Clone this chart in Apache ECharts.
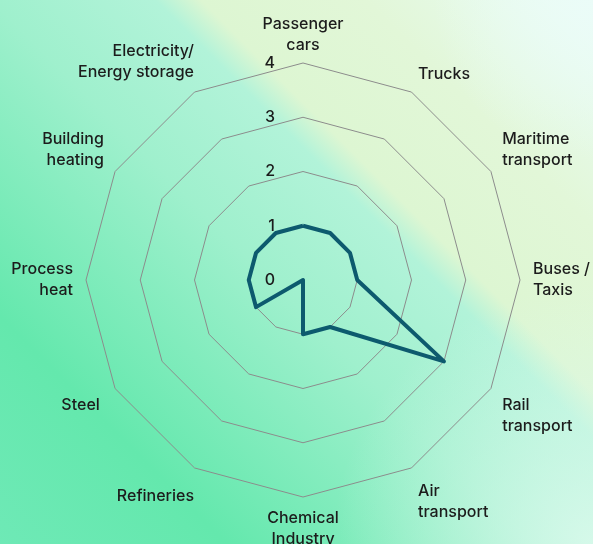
<!DOCTYPE html>
<html>
<head>
<meta charset="utf-8">
<script src="https://cdn.jsdelivr.net/npm/echarts@6/dist/echarts.min.js"></script>
<style>
  html, body { margin: 0; padding: 0; }
  #chart {
    width: 593px; height: 544px;
    background:
      radial-gradient(circle at 100% 100%, rgba(222,250,238,0.85) 0px, rgba(222,250,238,0) 260px),
      radial-gradient(circle at 100% 0%, rgba(235,252,248,0.9) 0px, rgba(235,252,248,0) 160px),
      linear-gradient(45deg, #6ee9b6 0%, #64e8ad 20%, #9ff0cd 47%, #b2f3d9 61.5%, #ddf6d2 65.5%, #e2f7d8 80%, #eafcf7 100%);
  }
</style>
</head>
<body>
<div id="chart"></div>
<script>
// Clockwise from top
var categories = [
  'Passenger\ncars', 'Trucks', 'Maritime\ntransport', 'Buses /\nTaxis',
  'Rail\ntransport', 'Air\ntransport', 'Chemical\nIndustry', 'Refineries',
  'Steel', 'Process\nheat', 'Building\nheating', 'Electricity/\nEnergy storage'
];
var values = [1, 1, 1, 1, 3, 1, 1, 0, 1, 1, 1, 1];
var axisMax = 4;

var FONT = 'Inter';
var TEXT = '#1c1c1c';

// name label placement tweaks (top, right, bottom, left padding)
var namePadding = {
  0: [0, 0, -6, 0],
  1: [0, 0, -4, 0],
  2: [0, 0, -6, 0],
  5: [2, 0, 0, 0],
  6: [-2, 0, 0, 0],
  7: [7, -6, 0, 0],
  8: [0, 4, 0, 0],
  10: [0, 0, -6, 0],
  11: [0, -6, -2, 0]
};

// vertical alignment of names: upper half -> bottom, lower half -> top, sides -> middle
function nameStyle(idx) {
  var deg = idx * 30; // clockwise from top
  var st = {};
  if (deg === 90 || deg === 270) st.verticalAlign = 'middle';
  else if (deg < 90 || deg > 270) st.verticalAlign = 'bottom';
  else st.verticalAlign = 'top';
  if (namePadding[idx]) st.padding = namePadding[idx];
  return st;
}

// ECharts lays indicators counter-clockwise; reorder so they read clockwise
var order = [0];
for (var i = categories.length - 1; i >= 1; i--) order.push(i);

var indicators = order.map(function (idx, k) {
  var ind = { name: categories[idx], min: 0, max: axisMax, nameTextStyle: nameStyle(idx) };
  if (k === 0) {
    ind.axisLabel = {
      show: true, color: TEXT, fontSize: 16, fontFamily: FONT, fontWeight: 500,
      margin: 28, showMinLabel: true
    };
  }
  return ind;
});
var seriesData = order.map(function (idx) { return values[idx]; });

var chart = echarts.init(document.getElementById('chart'), null, { renderer: 'canvas' });
chart.setOption({
  backgroundColor: 'transparent',
  radar: {
    center: [303, 280],
    radius: 217,
    startAngle: 90,
    splitNumber: 4,
    shape: 'polygon',
    nameGap: 13,
    axisName: { color: TEXT, fontSize: 16, fontFamily: FONT, fontWeight: 500, lineHeight: 21 },
    axisLine: { show: false },
    axisTick: { show: false },
    axisLabel: { show: false },
    splitArea: { show: false },
    splitLine: { lineStyle: { color: '#8c8c8c', width: 1 } },
    indicator: indicators
  },
  series: [{
    type: 'radar',
    symbol: 'none',
    lineStyle: { color: '#0d5a6e', width: 4 },
    itemStyle: { color: '#0d5a6e' },
    data: [{ value: seriesData, name: 'Score' }]
  }]
});
</script>
</body>
</html>
